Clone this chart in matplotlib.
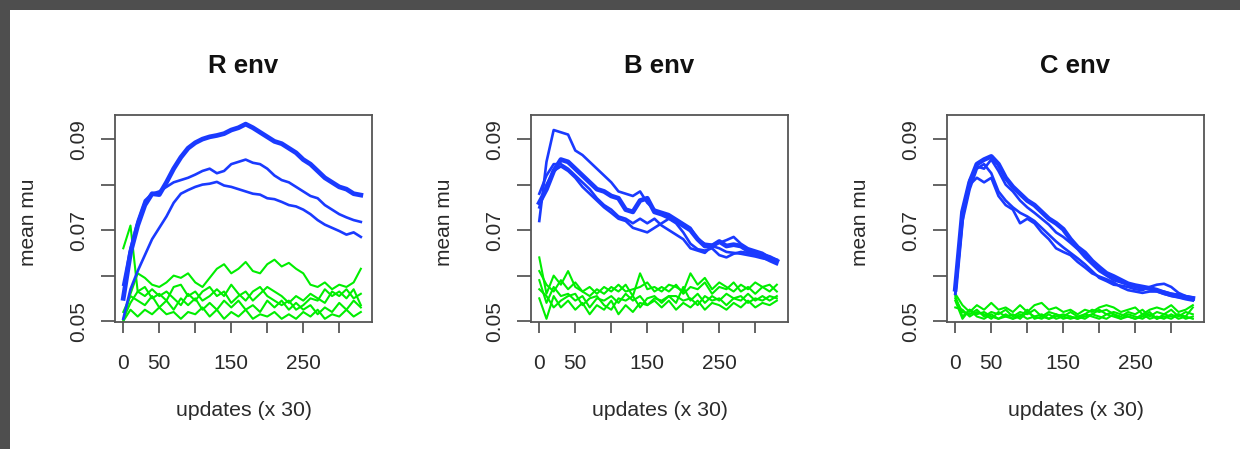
import matplotlib
matplotlib.use('Agg')
import matplotlib.pyplot as plt
from matplotlib.patches import Rectangle

plt.rcParams['font.family'] = ['Liberation Sans', 'DejaVu Sans']

W, H = 1240, 449

# x axis: updates (x 30), one point every 10
updates = list(range(0, 331, 10))

# ---- R env ----
r_blue = [
    [0.055, 0.065, 0.071, 0.0755, 0.078, 0.0778, 0.0805, 0.0835, 0.086, 0.088, 0.0892, 0.090,
     0.0905, 0.0908, 0.0912, 0.092, 0.0925, 0.0933, 0.0925, 0.0915, 0.0905, 0.0895, 0.089, 0.088,
     0.087, 0.0855, 0.0845, 0.083, 0.0815, 0.0805, 0.0795, 0.079, 0.078, 0.0777],
    [0.058, 0.066, 0.072, 0.0765, 0.078, 0.0785, 0.0795, 0.0805, 0.081, 0.0815, 0.0822, 0.083,
     0.0835, 0.0825, 0.083, 0.0845, 0.085, 0.0855, 0.0848, 0.0845, 0.0835, 0.082, 0.081, 0.0805,
     0.0795, 0.0785, 0.0775, 0.077, 0.0755, 0.0745, 0.0735, 0.0728, 0.0722, 0.0718],
    [0.0505, 0.057, 0.061, 0.0645, 0.068, 0.0705, 0.073, 0.076, 0.078, 0.0788, 0.0795, 0.080,
     0.0802, 0.0806, 0.0798, 0.0795, 0.079, 0.0785, 0.078, 0.0778, 0.077, 0.0768, 0.0762, 0.0755,
     0.0752, 0.0745, 0.0735, 0.0722, 0.0712, 0.0705, 0.0698, 0.069, 0.0695, 0.0685],
]
r_green = [
    [0.050, 0.056, 0.0605, 0.0595, 0.058, 0.0575, 0.0585, 0.060, 0.0595, 0.0605, 0.0585, 0.0575,
     0.0595, 0.0615, 0.0625, 0.0605, 0.0615, 0.063, 0.061, 0.0605, 0.0625, 0.0635, 0.062, 0.0628,
     0.0615, 0.0605, 0.058, 0.0575, 0.0585, 0.057, 0.058, 0.0575, 0.0585, 0.0615],
    [0.066, 0.071, 0.0565, 0.0575, 0.055, 0.056, 0.0545, 0.0575, 0.058, 0.0555, 0.0565, 0.0545,
     0.0555, 0.057, 0.0555, 0.058, 0.056, 0.0545, 0.0565, 0.0575, 0.0555, 0.0545, 0.0535, 0.0545,
     0.0525, 0.0535, 0.055, 0.0545, 0.057, 0.0555, 0.0565, 0.055, 0.057, 0.0535],
    [0.052, 0.0555, 0.0545, 0.0535, 0.0555, 0.053, 0.0545, 0.0525, 0.055, 0.0535, 0.055, 0.0525,
     0.054, 0.0525, 0.0545, 0.053, 0.0545, 0.0525, 0.0535, 0.052, 0.0545, 0.053, 0.0545, 0.0525,
     0.054, 0.0525, 0.0535, 0.0515, 0.053, 0.052, 0.054, 0.0525, 0.0545, 0.053],
    [0.050, 0.0525, 0.051, 0.0525, 0.0515, 0.053, 0.0515, 0.052, 0.0505, 0.052, 0.0515, 0.053,
     0.051, 0.0525, 0.0505, 0.052, 0.051, 0.0525, 0.0505, 0.0515, 0.051, 0.052, 0.0505, 0.0515,
     0.0505, 0.052, 0.051, 0.0525, 0.0505, 0.0515, 0.051, 0.0525, 0.051, 0.052],
    [0.0505, 0.054, 0.0565, 0.0555, 0.057, 0.0555, 0.0565, 0.055, 0.0535, 0.056, 0.0545, 0.0565,
     0.0575, 0.0555, 0.0565, 0.054, 0.0555, 0.0565, 0.0545, 0.056, 0.0575, 0.0565, 0.0555, 0.054,
     0.0555, 0.0545, 0.056, 0.055, 0.054, 0.0565, 0.0555, 0.057, 0.055, 0.056],
]

# ---- B env ----
b_blue = [
    [0.072, 0.085, 0.092, 0.0915, 0.091, 0.0875, 0.0865, 0.085, 0.0835, 0.082, 0.0805, 0.0785,
     0.078, 0.0775, 0.0785, 0.076, 0.0745, 0.074, 0.0735, 0.0725, 0.0715, 0.0705, 0.068, 0.067,
     0.0668, 0.0672, 0.0678, 0.0685, 0.067, 0.066, 0.0655, 0.065, 0.064, 0.0635],
    [0.076, 0.079, 0.083, 0.0855, 0.085, 0.0835, 0.082, 0.0805, 0.079, 0.0785, 0.0775, 0.077,
     0.0745, 0.074, 0.0765, 0.077, 0.074, 0.0735, 0.0728, 0.072, 0.071, 0.070, 0.068, 0.0665,
     0.0665, 0.0675, 0.0665, 0.0668, 0.0665, 0.0655, 0.065, 0.0645, 0.064, 0.0632],
    [0.078, 0.082, 0.0845, 0.0845, 0.0835, 0.082, 0.0805, 0.079, 0.077, 0.0755, 0.0745, 0.073,
     0.0725, 0.0715, 0.0725, 0.0715, 0.0725, 0.071, 0.070, 0.069, 0.068, 0.066, 0.0655, 0.065,
     0.0665, 0.066, 0.0652, 0.065, 0.0648, 0.0645, 0.0642, 0.0638, 0.0635, 0.0628],
    [0.075, 0.080, 0.083, 0.084, 0.083, 0.0815, 0.0795, 0.078, 0.0765, 0.075, 0.0738, 0.0725,
     0.072, 0.0705, 0.070, 0.0695, 0.0705, 0.0715, 0.0725, 0.0715, 0.0695, 0.067, 0.0658, 0.0655,
     0.066, 0.0645, 0.064, 0.0648, 0.0652, 0.065, 0.0645, 0.064, 0.0632, 0.0625],
]
b_green = [
    [0.064, 0.056, 0.060, 0.058, 0.061, 0.0575, 0.0565, 0.0555, 0.057, 0.056, 0.0575, 0.0565,
     0.058, 0.0555, 0.0605, 0.057, 0.0575, 0.0565, 0.058, 0.0575, 0.0565, 0.0605, 0.058, 0.0595,
     0.057, 0.0585, 0.0575, 0.0565, 0.058, 0.057, 0.0585, 0.0575, 0.058, 0.0565],
    [0.059, 0.054, 0.0575, 0.0555, 0.056, 0.0545, 0.0555, 0.053, 0.055, 0.0545, 0.0555, 0.054,
     0.056, 0.0545, 0.0555, 0.0535, 0.055, 0.0545, 0.0555, 0.054, 0.0575, 0.0545, 0.056, 0.054,
     0.0555, 0.0545, 0.056, 0.055, 0.0545, 0.056, 0.0545, 0.0555, 0.0545, 0.0555],
    [0.055, 0.0505, 0.0555, 0.053, 0.0545, 0.0525, 0.054, 0.0515, 0.0535, 0.0525, 0.0545, 0.0515,
     0.0535, 0.052, 0.054, 0.0535, 0.0545, 0.053, 0.0545, 0.0525, 0.054, 0.053, 0.0545, 0.0525,
     0.054, 0.0535, 0.0525, 0.054, 0.053, 0.0545, 0.053, 0.054, 0.0535, 0.0545],
    [0.061, 0.058, 0.0565, 0.059, 0.057, 0.0585, 0.0565, 0.0575, 0.056, 0.0575, 0.0565, 0.058,
     0.0565, 0.057, 0.0575, 0.0585, 0.0565, 0.0575, 0.0565, 0.058, 0.056, 0.0575, 0.057, 0.0585,
     0.056, 0.0575, 0.057, 0.0585, 0.0565, 0.0575, 0.056, 0.0575, 0.0565, 0.058],
    [0.057, 0.0555, 0.053, 0.0545, 0.0555, 0.056, 0.0535, 0.055, 0.0555, 0.0535, 0.0525, 0.055,
     0.0545, 0.0555, 0.053, 0.055, 0.0555, 0.054, 0.0555, 0.0555, 0.0545, 0.055, 0.0535, 0.0555,
     0.0545, 0.055, 0.0535, 0.055, 0.0555, 0.054, 0.055, 0.0545, 0.0555, 0.055],
]

# ---- C env ----
c_blue = [
    [0.057, 0.074, 0.0805, 0.0845, 0.0855, 0.0862, 0.0845, 0.0815, 0.0795, 0.078, 0.0765, 0.0755,
     0.074, 0.0725, 0.0715, 0.0702, 0.068, 0.0662, 0.065, 0.0632, 0.0618, 0.0605, 0.0598, 0.059,
     0.0582, 0.0578, 0.0575, 0.0572, 0.0568, 0.0562, 0.0558, 0.0555, 0.0552, 0.055],
    [0.056, 0.072, 0.079, 0.0835, 0.0845, 0.0825, 0.0785, 0.0765, 0.075, 0.0738, 0.073, 0.072,
     0.0705, 0.069, 0.0675, 0.0662, 0.065, 0.0638, 0.0625, 0.061, 0.0595, 0.0588, 0.058, 0.0578,
     0.0575, 0.057, 0.0568, 0.0575, 0.058, 0.0582, 0.0575, 0.0562, 0.0555, 0.055],
    [0.056, 0.073, 0.080, 0.0815, 0.0805, 0.0815, 0.0775, 0.0755, 0.0745, 0.0715, 0.0725, 0.0715,
     0.0695, 0.068, 0.066, 0.0652, 0.0645, 0.063, 0.0618, 0.0605, 0.0598, 0.0592, 0.0585, 0.0575,
     0.0568, 0.0565, 0.0562, 0.0565, 0.0565, 0.056, 0.0555, 0.0552, 0.0548, 0.0545],
    [0.057, 0.0735, 0.081, 0.084, 0.0835, 0.0855, 0.083, 0.080, 0.0785, 0.0765, 0.075, 0.0738,
     0.0725, 0.0712, 0.0695, 0.0685, 0.0672, 0.0658, 0.064, 0.0625, 0.061, 0.060, 0.059, 0.0585,
     0.058, 0.0575, 0.0572, 0.057, 0.0568, 0.0565, 0.056, 0.0558, 0.0555, 0.0552],
]
c_green = [
    [0.056, 0.0535, 0.052, 0.0535, 0.0525, 0.054, 0.0525, 0.053, 0.052, 0.0535, 0.052, 0.0535,
     0.054, 0.0525, 0.053, 0.052, 0.0525, 0.0515, 0.0525, 0.052, 0.053, 0.0535, 0.053, 0.052,
     0.0525, 0.053, 0.0515, 0.0525, 0.053, 0.0525, 0.0535, 0.052, 0.0525, 0.0535],
    [0.055, 0.052, 0.0515, 0.0525, 0.051, 0.052, 0.0515, 0.0525, 0.051, 0.052, 0.0515, 0.0525,
     0.051, 0.052, 0.0515, 0.051, 0.052, 0.051, 0.0515, 0.0525, 0.052, 0.0525, 0.0515, 0.051,
     0.052, 0.0515, 0.0525, 0.051, 0.052, 0.0515, 0.0525, 0.051, 0.052, 0.0515],
    [0.0545, 0.0505, 0.0525, 0.051, 0.0505, 0.0515, 0.0505, 0.051, 0.0505, 0.0515, 0.0505, 0.051,
     0.0505, 0.0515, 0.0505, 0.051, 0.0505, 0.051, 0.0505, 0.0515, 0.051, 0.0505, 0.0515, 0.0505,
     0.051, 0.0505, 0.0515, 0.0505, 0.051, 0.0505, 0.0515, 0.0505, 0.051, 0.0505],
    [0.053, 0.0525, 0.051, 0.052, 0.0515, 0.0505, 0.052, 0.051, 0.0515, 0.0505, 0.052, 0.051,
     0.0515, 0.0505, 0.051, 0.0515, 0.051, 0.0505, 0.051, 0.0515, 0.0525, 0.0515, 0.052, 0.0515,
     0.051, 0.0505, 0.051, 0.052, 0.0505, 0.0515, 0.051, 0.0515, 0.0505, 0.051],
    [0.0555, 0.051, 0.0525, 0.0515, 0.052, 0.051, 0.0505, 0.0515, 0.0505, 0.051, 0.0525, 0.0505,
     0.051, 0.0505, 0.0515, 0.0505, 0.051, 0.0505, 0.0515, 0.051, 0.0505, 0.0515, 0.051, 0.0505,
     0.0515, 0.051, 0.0505, 0.0515, 0.0505, 0.051, 0.0505, 0.0515, 0.051, 0.053],
]

titles = ['R env', 'B env', 'C env']
panels = [(r_blue, r_green), (b_blue, b_green), (c_blue, c_green)]
# thick (overlapping) blue run in each panel
thick = [0, 1, 0]
ytick_vals = [0.05, 0.06, 0.07, 0.08, 0.09]
ytick_labels = ['0.05', '', '0.07', '', '0.09']
xtick_vals = [0, 50, 100, 150, 200, 250, 300]
xtick_labels = ['0', '50', '', '150', '', '250', '']

BLUE = '#1a3aff'
GREEN = '#00ee00'
AX = '#3a3a3a'
TXT = '#2a2a2a'

fig = plt.figure(figsize=(W / 100, H / 100), dpi=100)
fig.patch.set_facecolor('white')

# dark screenshot frame (top and left)
fig.patches.append(Rectangle((0, 1 - 10 / H), 1, 10 / H, transform=fig.transFigure,
                             facecolor='#4e4e4e', edgecolor='none', zorder=0))
fig.patches.append(Rectangle((0, 0), 10 / W, 1, transform=fig.transFigure,
                             facecolor='#4e4e4e', edgecolor='none', zorder=0))

lefts = [115, 531, 947]
ax_w, top_px, bot_px = 257, 115, 322

for i, (blues, greens) in enumerate(panels):
    L = lefts[i]
    ax = fig.add_axes([L / W, 1 - bot_px / H, ax_w / W, (bot_px - top_px) / H])
    for g in greens:
        ax.plot(updates, g, color=GREEN, lw=1.5)
    for k, b in enumerate(blues):
        ax.plot(updates, b, color=BLUE, lw=3.4 if k == thick[i] else 1.9)
    ax.set_xlim(-11.5, 345.5)
    ax.set_ylim(0.0498, 0.0953)
    ax.set_yticks(ytick_vals)
    ax.set_yticklabels(ytick_labels, rotation=90, va='center', fontsize=15, color=TXT)
    ax.set_xticks(xtick_vals)
    ax.set_xticklabels(xtick_labels, fontsize=15, color=TXT)
    ax.tick_params(axis='y', length=10, width=1.1, color=AX, pad=9)
    ax.tick_params(axis='x', length=8, width=1.1, color=AX, pad=15)
    for s in ax.spines.values():
        s.set_color('#555555')
        s.set_linewidth(1.3)
    cx = (L + L + ax_w) / 2
    fig.text(cx / W, 1 - 66 / H, titles[i], ha='center', va='center',
             fontsize=18.5, fontweight='bold', color='#111111')
    fig.text(cx / W, 1 - 410 / H, 'updates (x 30)', ha='center', va='center',
             fontsize=15.3, color=TXT)
    fig.text((L - 87) / W, 1 - 222 / H, 'mean mu', ha='center', va='center',
             rotation=90, fontsize=15, color=TXT)

plt.savefig('out.png', dpi=100, facecolor=fig.get_facecolor())
